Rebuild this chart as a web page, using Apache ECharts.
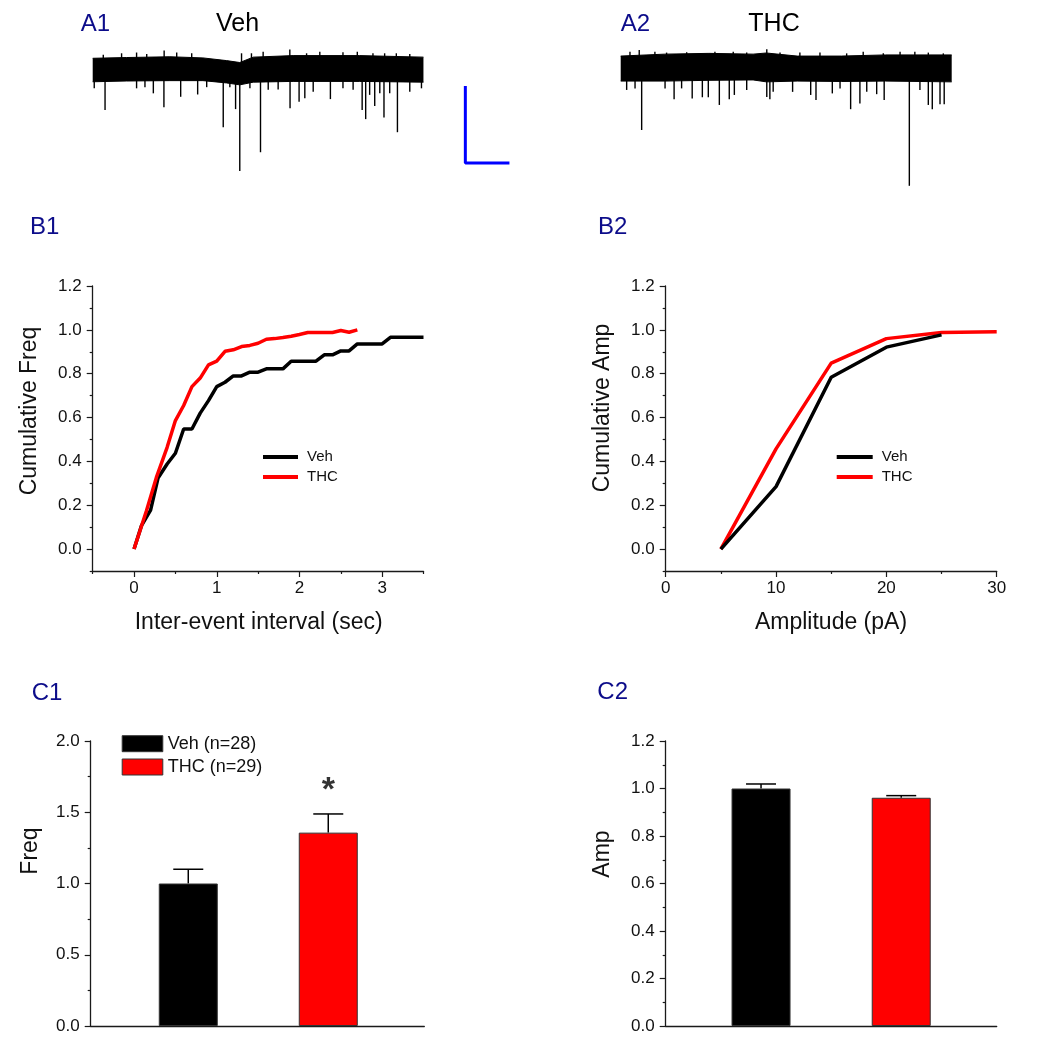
<!DOCTYPE html>
<html>
<head>
<meta charset="utf-8">
<script src="https://cdn.jsdelivr.net/npm/echarts@6/dist/echarts.min.js"></script>
<style>
html,body{margin:0;padding:0;background:#fff;}
#main{width:1041px;height:1050px;}
</style>
</head>
<body>
<div id="main"></div>
<script>
// ---------- DATA ----------
// A1 / A2 raw traces: noise-band envelope (time s, current pA) and event list (time s, peak pA)
const vehBandTime  = [0, 1.54, 3.5, 5.0, 6.07, 6.67, 7.28, 9.09, 12.1, 15.0];
const vehBandUpper = [3.3, 3.5, 3.7, 3.4, 2.7, 2.2, 3.6, 4.0, 4.0, 3.6];
const vehBandLower = [-2.8, -2.6, -2.5, -2.5, -3.1, -3.6, -2.9, -2.7, -2.7, -2.9];
const vehEventTime = [0.07,0.56,1.99,2.37,2.75,3.23,3.24,3.99,4.76,5.17,5.92,6.22,6.48,6.67,6.75,7.13,7.61,7.96,8.41,8.94,8.95,9.36,9.62,10.0,10.78,11.35,11.81,12.0,12.22,12.38,12.56,12.79,13.02,13.21,13.47,13.82,14.38,14.91,
                      0.48,1.31,1.99,2.45,3.81,4.49,7.2,7.73,9.7,10.3,11.35,12.71,13.24,13.77,14.38];
const vehEventAmp  = [-4.5,-10.1,-4.5,-4.2,-5.8,-9.4,5.3,-6.7,-6.1,-4.2,-14.6,-4.2,-9.9,-26.0,4.6,-4.5,-21.1,-4.9,-4.8,5.6,-9.7,-8.0,-7.1,-5.4,-7.3,-4.5,-4.9,5.0,-10.1,-12.5,-6.2,-9.1,-5.8,-12.1,-5.8,-15.9,-5.4,-4.5,
                      4.2,4.6,4.8,4.4,4.8,4.6,4.6,5.0,4.6,5.0,4.9,4.6,4.6,4.6,4.4];

const thcBandTime  = [0, 2, 4, 6, 6.6, 8, 10, 12, 15];
const thcBandUpper = [3.1, 3.6, 3.8, 3.6, 3.9, 3.1, 3.1, 3.4, 3.4];
const thcBandLower = [-3.4, -3.4, -3.2, -3.1, -3.6, -3.4, -3.5, -3.4, -3.6];
const thcEventTime = [0.27,0.65,0.84,0.95,2.01,2.42,2.76,3.24,3.70,3.97,4.47,4.92,5.15,5.71,6.62,6.62,6.76,6.91,7.79,8.61,8.85,9.59,9.94,10.42,10.84,11.15,11.6,11.94,13.08,13.33,13.56,13.94,14.12,14.47,14.66,
                      0.42,1.55,2.08,2.99,4.27,5.1,5.71,7.22,8.12,9.03,10.24,10.99,11.9,12.66,13.94,14.62];
const thcEventAmp  = [-5.7,-5.3,4.7,-16.1,-5.3,-8.1,-5.3,-7.9,-7.6,-7.6,-9.6,-8.1,-7.0,-5.7,-7.5,4.9,-8.1,-6.2,-6.2,-7.0,-8.3,-6.6,-5.3,-10.7,-9.2,-6.2,-6.8,-8.3,-30.6,4.2,-5.7,-9.6,-10.7,-9.4,-9.4,
                      4.2,4.2,4.0,4.1,4.2,4.2,4.0,4.0,4.0,4.0,3.8,4.2,3.8,4.2,4.0,3.8];

// scale bar (s, pA)
const scaleBarTime = 2;
const scaleBarAmp = 20;

// B1 cumulative inter-event interval
const vehIEIx = [0,0.09,0.2,0.29,0.4,0.5,0.6,0.7,0.8,0.9,1.0,1.1,1.2,1.3,1.4,1.5,1.6,1.8,1.9,2.2,2.3,2.4,2.5,2.6,2.7,3.0,3.1,3.5];
const vehIEIy = [0,0.107,0.178,0.324,0.388,0.437,0.548,0.548,0.62,0.677,0.741,0.761,0.79,0.79,0.807,0.807,0.822,0.822,0.857,0.857,0.886,0.886,0.904,0.904,0.936,0.936,0.966,0.966];
const thcIEIx = [0,0.15,0.27,0.4,0.5,0.6,0.7,0.8,0.9,1.0,1.1,1.2,1.3,1.4,1.5,1.6,1.7,1.8,1.9,2.0,2.1,2.4,2.5,2.6,2.7];
const thcIEIy = [0,0.175,0.327,0.464,0.586,0.655,0.741,0.78,0.84,0.857,0.902,0.909,0.924,0.929,0.939,0.957,0.96,0.965,0.971,0.979,0.988,0.988,0.997,0.989,1.0];

// B2 cumulative amplitude
const ampBins = [5, 10, 15, 20, 25, 30];
const vehAmpCum = [0, 0.285, 0.784, 0.921, 0.977];
const thcAmpCum = [0, 0.457, 0.848, 0.96, 0.988, 0.991];

// C1 / C2 normalized means
const groups = ['Veh', 'THC'];
const nCells = [28, 29];
const freqMean = [1.0, 1.357];
const freqSem = [0.10, 0.131];
const ampMean = [1.0, 0.961];
const ampSem = [0.019, 0.009];

// tick labels
const cumTicks = [0, 0.2, 0.4, 0.6, 0.8, 1.0, 1.2];
const cumMinorTicks = [-0.1, 0.1, 0.3, 0.5, 0.7, 0.9, 1.1];
const ieiTicks = [0, 1, 2, 3];
const ieiMinorTicks = [-0.5, 0.5, 1.5, 2.5, 3.5];

// ---------- HELPERS ----------
const FONT = '"Liberation Sans", Arial, Helvetica, sans-serif';
const AX = '#1a1a1a';
const zip = (a, b) => a.map((v, i) => [v, b[i]]);
const navy = '#0c0c8a';

function hiddenAxis(extra) { return Object.assign({ type: 'value', show: false }, extra); }

function errRender(params, api) {
  const x = api.value(0), lo = api.value(1), hi = api.value(2);
  const p0 = api.coord([x, lo]), p1 = api.coord([x, hi]);
  const half = 15;
  return { type: 'group', children: [
    { type: 'line', shape: { x1: p0[0], y1: p0[1], x2: p1[0], y2: p1[1] }, style: { stroke: '#000', lineWidth: 1.5 } },
    { type: 'line', shape: { x1: p1[0] - half, y1: p1[1], x2: p1[0] + half, y2: p1[1] }, style: { stroke: '#000', lineWidth: 1.5 } }
  ]};
}

const axLine = { show: true, onZero: false, lineStyle: { color: AX, width: 1.3 } };
const noLine = { show: false, onZero: false };
const tickStyle = { color: AX, width: 1.2 };
const labelStyle = { color: '#111', fontSize: 17, fontFamily: FONT };

// scale bar anchor in A1 coordinates
const sbT = 16.9, sbA = -3.9;

const option = {
  animation: false,
  textStyle: { fontFamily: FONT },
  grid: [
    { left: 92.7, top: 32.5, width: 441, height: 161.7 },   // A1
    { left: 620.7, top: 29.5, width: 331, height: 161.7 },  // A2
    { left: 92.7, top: 286, width: 330.8, height: 285 },    // B1
    { left: 665.7, top: 286, width: 331, height: 285 },     // B2
    { left: 90.7, top: 741, width: 333.6, height: 285 },    // C1
    { left: 665.7, top: 741, width: 331, height: 285 }      // C2
  ],
  xAxis: [
    hiddenAxis({ gridIndex: 0, min: 0, max: 20 }),
    hiddenAxis({ gridIndex: 1, min: 0, max: 15 }),
    { type: 'value', gridIndex: 2, position: 'bottom', min: -0.5, max: 3.5, splitLine: { show: false },
      axisLine: axLine,
      axisTick: { show: true, length: 6, lineStyle: tickStyle, customValues: ieiTicks },
      axisLabel: Object.assign({ margin: 9, customValues: ieiTicks }, labelStyle) },
    { type: 'value', gridIndex: 2, position: 'bottom', offset: 0, min: -0.5, max: 3.5, splitLine: { show: false },
      axisLine: noLine, axisLabel: { show: false },
      axisTick: { show: true, length: 3, lineStyle: tickStyle, customValues: ieiMinorTicks } },
    { type: 'value', gridIndex: 3, position: 'bottom', min: 0, max: 30, interval: 10, splitLine: { show: false },
      axisLine: axLine,
      axisTick: { show: true, length: 6, lineStyle: tickStyle },
      minorTick: { show: true, splitNumber: 2, length: 3, lineStyle: tickStyle },
      axisLabel: Object.assign({ margin: 9 }, labelStyle) },
    { type: 'value', gridIndex: 4, position: 'bottom', min: -0.697, max: 1.686, splitLine: { show: false },
      axisLine: axLine, axisTick: { show: false }, axisLabel: { show: false } },
    { type: 'value', gridIndex: 5, position: 'bottom', min: -0.68, max: 1.681, splitLine: { show: false },
      axisLine: axLine, axisTick: { show: false }, axisLabel: { show: false } }
  ],
  yAxis: [
    hiddenAxis({ gridIndex: 0, min: -32, max: 10 }),
    hiddenAxis({ gridIndex: 1, min: -32, max: 10 }),
    { type: 'value', gridIndex: 2, position: 'left', min: -0.1, max: 1.2, splitLine: { show: false },
      axisLine: axLine,
      axisTick: { show: true, length: 6, lineStyle: tickStyle, customValues: cumTicks },
      axisLabel: Object.assign({ margin: 11, customValues: cumTicks, formatter: v => v.toFixed(1) }, labelStyle) },
    { type: 'value', gridIndex: 2, position: 'left', offset: 0, min: -0.1, max: 1.2, splitLine: { show: false },
      axisLine: noLine, axisLabel: { show: false },
      axisTick: { show: true, length: 3, lineStyle: tickStyle, customValues: cumMinorTicks } },
    { type: 'value', gridIndex: 3, position: 'left', min: -0.1, max: 1.2, splitLine: { show: false },
      axisLine: axLine,
      axisTick: { show: true, length: 6, lineStyle: tickStyle, customValues: cumTicks },
      axisLabel: Object.assign({ margin: 11, customValues: cumTicks, formatter: v => v.toFixed(1) }, labelStyle) },
    { type: 'value', gridIndex: 3, position: 'left', offset: 0, min: -0.1, max: 1.2, splitLine: { show: false },
      axisLine: noLine, axisLabel: { show: false },
      axisTick: { show: true, length: 3, lineStyle: tickStyle, customValues: cumMinorTicks } },
    { type: 'value', gridIndex: 4, position: 'left', min: 0, max: 2, interval: 0.5, splitLine: { show: false },
      axisLine: axLine,
      axisTick: { show: true, length: 6, lineStyle: tickStyle },
      minorTick: { show: true, splitNumber: 2, length: 3, lineStyle: tickStyle },
      axisLabel: Object.assign({ margin: 11, formatter: v => v.toFixed(1) }, labelStyle) },
    { type: 'value', gridIndex: 5, position: 'left', min: 0, max: 1.2, interval: 0.2, splitLine: { show: false },
      axisLine: axLine,
      axisTick: { show: true, length: 6, lineStyle: tickStyle },
      minorTick: { show: true, splitNumber: 2, length: 3, lineStyle: tickStyle },
      axisLabel: Object.assign({ margin: 11, formatter: v => v.toFixed(1) }, labelStyle) }
  ],
  legend: [
    { data: ['B1 Veh', 'B1 THC'], orient: 'vertical', left: 263, top: 449.5, padding: 0, icon: 'rect', itemWidth: 35, itemHeight: 4, itemGap: 5,
      selectedMode: false, formatter: n => n.replace('B1 ', ''),
      textStyle: { fontSize: 15, color: '#111', padding: [0, 0, 0, 4] } },
    { data: ['B2 Veh', 'B2 THC'], orient: 'vertical', left: 836.7, top: 449.5, padding: 0, icon: 'rect', itemWidth: 36, itemHeight: 4, itemGap: 5,
      selectedMode: false, formatter: n => n.replace('B2 ', ''),
      textStyle: { fontSize: 15, color: '#111', padding: [0, 0, 0, 4] } },
    { data: ['C1 Veh', 'C1 THC'], orient: 'vertical', left: 121.7, top: 734.7, padding: 0, itemWidth: 40.6, itemHeight: 16, itemGap: 5.3,
      selectedMode: false, icon: 'rect',
      formatter: n => { const i = n.indexOf('Veh') >= 0 ? 0 : 1; return groups[i] + ' (n=' + nCells[i] + ')'; },
      itemStyle: { borderColor: '#333', borderWidth: 1 },
      textStyle: { fontSize: 18, color: '#111' } }
  ],
  series: [
    // A1
    { type: 'line', xAxisIndex: 0, yAxisIndex: 0, data: zip(vehBandTime, vehBandUpper), symbol: 'none', silent: true,
      lineStyle: { color: '#000', width: 1 }, areaStyle: { color: '#000', opacity: 1, origin: 0 } },
    { type: 'line', xAxisIndex: 0, yAxisIndex: 0, data: zip(vehBandTime, vehBandLower), symbol: 'none', silent: true,
      lineStyle: { color: '#000', width: 1 }, areaStyle: { color: '#000', opacity: 1, origin: 0 } },
    { type: 'bar', xAxisIndex: 0, yAxisIndex: 0, data: zip(vehEventTime, vehEventAmp), barWidth: 1.4, silent: true,
      itemStyle: { color: '#000' } },
    { type: 'line', xAxisIndex: 0, yAxisIndex: 0, symbol: 'none', silent: true,
      data: [[sbT, sbA], [sbT, sbA - scaleBarAmp], [sbT + scaleBarTime, sbA - scaleBarAmp]],
      lineStyle: { color: '#0000ff', width: 3 } },
    // A2
    { type: 'line', xAxisIndex: 1, yAxisIndex: 1, data: zip(thcBandTime, thcBandUpper), symbol: 'none', silent: true,
      lineStyle: { color: '#000', width: 1 }, areaStyle: { color: '#000', opacity: 1, origin: 0 } },
    { type: 'line', xAxisIndex: 1, yAxisIndex: 1, data: zip(thcBandTime, thcBandLower), symbol: 'none', silent: true,
      lineStyle: { color: '#000', width: 1 }, areaStyle: { color: '#000', opacity: 1, origin: 0 } },
    { type: 'bar', xAxisIndex: 1, yAxisIndex: 1, data: zip(thcEventTime, thcEventAmp), barWidth: 1.4, silent: true,
      itemStyle: { color: '#000' } },
    // B1
    { name: 'B1 Veh', type: 'line', xAxisIndex: 2, yAxisIndex: 2, data: zip(vehIEIx, vehIEIy), symbol: 'none',
      itemStyle: { color: '#000' }, lineStyle: { color: '#000', width: 3.5 } },
    { name: 'B1 THC', type: 'line', xAxisIndex: 2, yAxisIndex: 2, data: zip(thcIEIx, thcIEIy), symbol: 'none',
      itemStyle: { color: '#ff0000' }, lineStyle: { color: '#ff0000', width: 3.5 } },
    // B2
    { name: 'B2 Veh', type: 'line', xAxisIndex: 4, yAxisIndex: 4, data: zip(ampBins.slice(0, vehAmpCum.length), vehAmpCum), symbol: 'none',
      itemStyle: { color: '#000' }, lineStyle: { color: '#000', width: 3.5 }, z: 3 },
    { name: 'B2 THC', type: 'line', xAxisIndex: 4, yAxisIndex: 4, data: zip(ampBins, thcAmpCum), symbol: 'none',
      itemStyle: { color: '#ff0000' }, lineStyle: { color: '#ff0000', width: 3.5 }, z: 2 },
    // C1
    { name: 'C1 Veh', type: 'bar', xAxisIndex: 5, yAxisIndex: 6, data: [[0, freqMean[0]]], barWidth: 59, barGap: '-100%',
      itemStyle: { color: '#000', borderColor: '#333', borderWidth: 1 } },
    { name: 'C1 THC', type: 'bar', xAxisIndex: 5, yAxisIndex: 6, data: [[1, freqMean[1]]], barWidth: 59, barGap: '-100%',
      itemStyle: { color: '#ff0000', borderColor: '#333', borderWidth: 1 } },
    { type: 'custom', xAxisIndex: 5, yAxisIndex: 6, renderItem: errRender, silent: true, z: 1,
      encode: { x: 0, y: [1, 2] },
      data: freqMean.map((m, i) => [i, m, m + freqSem[i]]) },
    { type: 'scatter', xAxisIndex: 5, yAxisIndex: 6, silent: true, symbolSize: 1,
      itemStyle: { color: 'rgba(0,0,0,0)' },
      data: [[1, freqMean[1] + freqSem[1]]],
      label: { show: true, formatter: '*', position: 'top', distance: 6, fontSize: 34, fontWeight: 'bold', color: '#000' } },
    // C2
    { name: 'C2 Veh', type: 'bar', xAxisIndex: 6, yAxisIndex: 7, data: [[0, ampMean[0]]], barWidth: 59, barGap: '-100%',
      itemStyle: { color: '#000', borderColor: '#333', borderWidth: 1 } },
    { name: 'C2 THC', type: 'bar', xAxisIndex: 6, yAxisIndex: 7, data: [[1, ampMean[1]]], barWidth: 59, barGap: '-100%',
      itemStyle: { color: '#ff0000', borderColor: '#333', borderWidth: 1 } },
    { type: 'custom', xAxisIndex: 6, yAxisIndex: 7, renderItem: errRender, silent: true, z: 1,
      encode: { x: 0, y: [1, 2] },
      data: ampMean.map((m, i) => [i, m, m + ampSem[i]]) }
  ],
  graphic: [
    { type: 'text', x: 80.7, y: 24, style: { text: 'A1', font: '24px ' + FONT, fill: navy, align: 'left', verticalAlign: 'middle' } },
    { type: 'text', x: 216, y: 24, style: { text: 'Veh', font: '25px ' + FONT, fill: '#000', align: 'left', verticalAlign: 'middle' } },
    { type: 'text', x: 620.7, y: 24, style: { text: 'A2', font: '24px ' + FONT, fill: navy, align: 'left', verticalAlign: 'middle' } },
    { type: 'text', x: 748.3, y: 24, style: { text: 'THC', font: '25px ' + FONT, fill: '#000', align: 'left', verticalAlign: 'middle' } },
    { type: 'text', x: 30, y: 227, style: { text: 'B1', font: '24px ' + FONT, fill: navy, align: 'left', verticalAlign: 'middle' } },
    { type: 'text', x: 598, y: 227, style: { text: 'B2', font: '24px ' + FONT, fill: navy, align: 'left', verticalAlign: 'middle' } },
    { type: 'text', x: 31.7, y: 693, style: { text: 'C1', font: '24px ' + FONT, fill: navy, align: 'left', verticalAlign: 'middle' } },
    { type: 'text', x: 597.3, y: 692, style: { text: 'C2', font: '24px ' + FONT, fill: navy, align: 'left', verticalAlign: 'middle' } },
    // axis names
    { type: 'text', x: 30, y: 411, rotation: Math.PI / 2, style: { text: 'Cumulative Freq', font: '23px ' + FONT, fill: '#111', align: 'center', verticalAlign: 'middle' } },
    { type: 'text', x: 603, y: 408, rotation: Math.PI / 2, style: { text: 'Cumulative Amp', font: '23px ' + FONT, fill: '#111', align: 'center', verticalAlign: 'middle' } },
    { type: 'text', x: 258.7, y: 622.5, style: { text: 'Inter-event interval (sec)', font: '23px ' + FONT, fill: '#111', align: 'center', verticalAlign: 'middle' } },
    { type: 'text', x: 831, y: 622.5, style: { text: 'Amplitude (pA)', font: '23px ' + FONT, fill: '#111', align: 'center', verticalAlign: 'middle' } },
    { type: 'text', x: 31, y: 851, rotation: Math.PI / 2, style: { text: 'Freq', font: '23px ' + FONT, fill: '#111', align: 'center', verticalAlign: 'middle' } },
    { type: 'text', x: 603, y: 854, rotation: Math.PI / 2, style: { text: 'Amp', font: '23px ' + FONT, fill: '#111', align: 'center', verticalAlign: 'middle' } }
  ]
};

const chart = echarts.init(document.getElementById('main'), null, { renderer: 'canvas' });
chart.setOption(option);
</script>
</body>
</html>
